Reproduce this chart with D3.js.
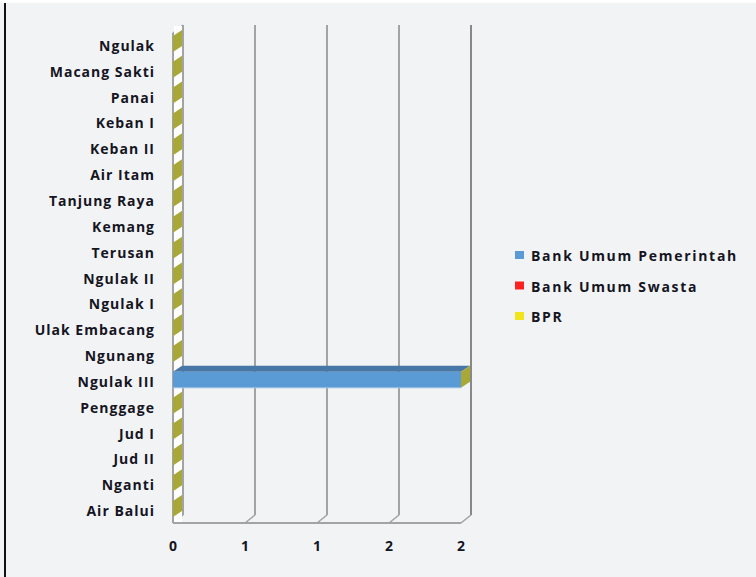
<!DOCTYPE html>
<html><head><meta charset="utf-8">
<script src="https://cdn.jsdelivr.net/npm/d3@7/dist/d3.min.js"></script>
<style>
html,body{margin:0;padding:0;background:#fff;}
svg{display:block;}
text{font-family:"Open Sans",sans-serif;font-weight:700;fill:#15151f;}
</style></head>
<body>
<svg id="chart" width="756" height="577"></svg>
<script>
// Categories from top to bottom
const categories = ["Ngulak","Macang Sakti","Panai","Keban I","Keban II","Air Itam","Tanjung Raya","Kemang","Terusan","Ngulak II","Ngulak I","Ulak Embacang","Ngunang","Ngulak III","Penggage","Jud I","Jud II","Nganti","Air Balui"];
const seriesNames = ["Bank Umum Pemerintah","Bank Umum Swasta","BPR"];
const pemerintah = [0,0,0,0,0,0,0,0,0,0,0,0,0,2,0,0,0,0,0];
const swasta     = [0,0,0,0,0,0,0,0,0,0,0,0,0,0,0,0,0,0,0];
const bpr        = [0,0,0,0,0,0,0,0,0,0,0,0,0,0,0,0,0,0,0];
const tickValues = [0,0.5,1,1.5,2];
const tickLabels = ["0","1","1","2","2"];

const colors = ["#5b9bd5","#ff2020","#f2e41a"];
const topColors = ["#4677a6","#c01818","#b8b040"];
const capColor = "#a8a838";
const legendColors = ["#5b9bd5","#ff2020","#f2e41a"];

const svg = d3.select("#chart");
svg.append("rect").attr("x",0).attr("y",3).attr("width",756).attr("height",574).attr("fill","#f2f3f5");
svg.append("rect").attr("x",4).attr("y",3).attr("width",2).attr("height",574).attr("fill","#111");

const x = d3.scaleLinear().domain([0,2]).range([173,461]);
const y = d3.scaleBand().domain(categories).range([33,524]).paddingInner(0);
const yBottom = 523, yTop = 25;
const wdx = 10, wdy = -8;   // wall depth
const bdx = 9, bdy = -6;    // bar depth
const barH = 16;

const g = svg.append("g");
const gridColor = "#a3a3a3";
// back wall gridlines
tickValues.forEach((v,i)=>{
  g.append("line").attr("x1",x(v)+wdx).attr("x2",x(v)+wdx)
   .attr("y1",yTop).attr("y2",yBottom+wdy)
   .attr("stroke", i===tickValues.length-1 ? "#888888" : gridColor).attr("stroke-width",2);
  g.append("line").attr("x1",x(v)).attr("x2",x(v)+wdx)
   .attr("y1",yBottom).attr("y2",yBottom+wdy)
   .attr("stroke",gridColor).attr("stroke-width",1.6);
});
// floor front line
g.append("line").attr("x1",x(0)).attr("x2",x(2)).attr("y1",yBottom).attr("y2",yBottom)
 .attr("stroke",gridColor).attr("stroke-width",2);
// left wall
g.append("line").attr("x1",x(0)).attr("x2",x(0)).attr("y1",yTop-wdy).attr("y2",yBottom)
 .attr("stroke",gridColor).attr("stroke-width",2);
g.append("line").attr("x1",x(0)).attr("x2",x(0)+wdx).attr("y1",yTop-wdy).attr("y2",yTop)
 .attr("stroke",gridColor).attr("stroke-width",1.6);
g.append("rect").attr("x",x(0)+1).attr("y",yTop+1).attr("width",wdx-2).attr("height",yBottom-yTop-2)
 .attr("fill","#ffffff");

// stacked data
const stack = categories.map((c,i)=>{
  const vals=[pemerintah[i],swasta[i],bpr[i]];
  let acc=0; const segs=vals.map((v,k)=>{const s={k,x0:acc,x1:acc+v}; acc+=v; return s;});
  return {c,segs,total:acc};
});

const bars = g.append("g");
stack.forEach(d=>{
  const yf = y(d.c) + y.bandwidth()/2 - 10;
  d.segs.forEach(s=>{
    if(s.x1>s.x0){
      const xa=x(s.x0), xb=x(s.x1);
      bars.append("rect").attr("x",xa).attr("y",yf).attr("width",xb-xa).attr("height",barH)
        .attr("fill",colors[s.k]);
      bars.append("path").attr("d",`M${xa},${yf}L${xb},${yf}L${xb+bdx},${yf+bdy}L${xa+bdx},${yf+bdy}Z`)
        .attr("fill",topColors[s.k]);
      bars.append("line").attr("x1",xa).attr("x2",xb).attr("y1",yf+barH).attr("y2",yf+barH)
        .attr("stroke","#a9c8e8").attr("stroke-width",1);
    }
  });
  const xe = x(d.total);
  bars.append("path").attr("d",`M${xe},${yf+barH}L${xe},${yf}L${xe+bdx},${yf+bdy}L${xe+bdx},${yf+barH+bdy}Z`)
    .attr("fill",capColor);
});

// category labels
svg.append("g").selectAll("text").data(categories).join("text")
  .attr("x",155).attr("y",d=>y(d)+y.bandwidth()/2+5)
  .attr("text-anchor","end").attr("font-size","14px").attr("letter-spacing","1px")
  .text(d=>d);

// x tick labels
svg.append("g").selectAll("text").data(tickValues).join("text")
  .attr("x",d=>x(d)).attr("y",551).attr("text-anchor","middle").attr("font-size","14px")
  .text((d,i)=>tickLabels[i]);

// legend
const lg = svg.append("g");
seriesNames.forEach((n,i)=>{
  const ly = 251 + i*30.5;
  lg.append("rect").attr("x",515).attr("y",ly).attr("width",9).attr("height",8).attr("fill",legendColors[i]);
  lg.append("text").attr("x",531).attr("y",ly+10).attr("font-size","14px").attr("letter-spacing","1.7px").text(n);
});
</script>
</body></html>
